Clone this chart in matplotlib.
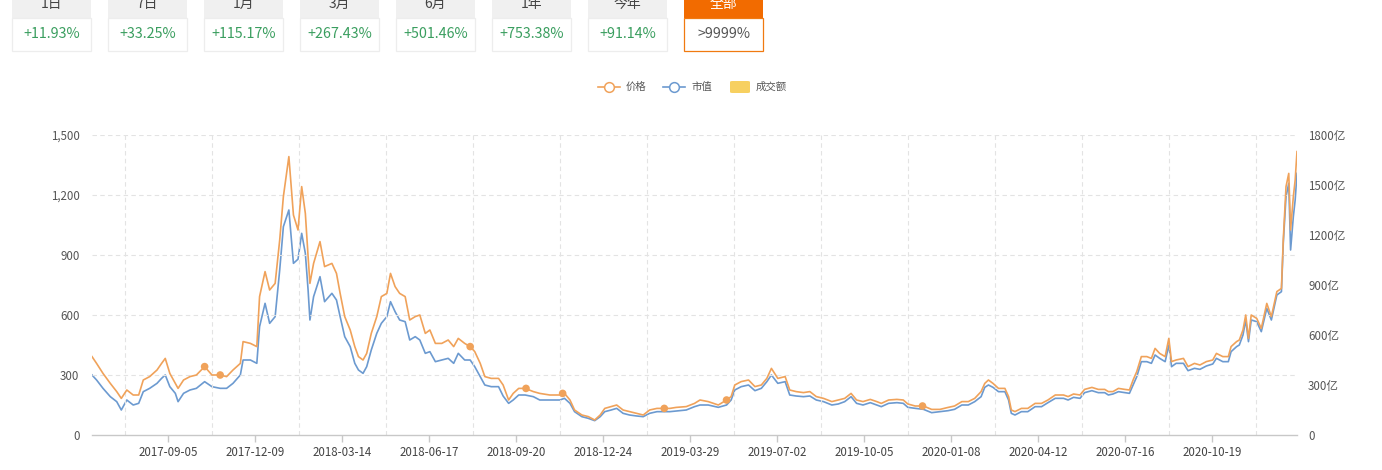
import numpy as np
import matplotlib
matplotlib.use("Agg")
import matplotlib.pyplot as plt
from matplotlib.patches import Rectangle, FancyBboxPatch
from matplotlib.lines import Line2D
from matplotlib.ticker import FuncFormatter

plt.rcParams['font.family'] = ['Noto Sans CJK SC', 'DejaVu Sans']

# ---------------- data ----------------
start_date = '2017-06-14'
day_offsets = [0, 5, 12, 20, 27, 32, 38, 45, 51, 56, 63, 71, 76, 80, 85, 91, 94, 100, 107, 114,
               123, 131, 140, 147, 154, 162, 165, 173, 180, 183, 189, 194, 200, 205, 209, 215, 220,
               225, 229, 233, 236, 238, 242, 249, 254, 262, 267, 271, 276, 282, 287, 291, 296, 300,
               305, 311, 316, 322, 326, 331, 336, 342, 347, 353, 358, 364, 369, 375, 382, 389, 395,
               400, 407, 413, 418, 424, 429, 436, 444, 449, 455, 460, 466, 473, 482, 489, 500, 511,
               516, 522, 527, 535, 542, 549, 555, 560, 567, 573, 580, 587, 595, 602, 609, 617, 624,
               631, 638, 649, 658, 664, 673, 684, 693, 698, 702, 709, 717, 724, 731, 737, 742, 749,
               757, 762, 769, 777, 784, 791, 799, 808, 815, 822, 829, 835, 842, 850, 857, 862, 870,
               879, 886, 891, 899, 908, 917, 926, 935, 942, 950, 957, 964, 971, 975, 979, 984, 990,
               997, 1001, 1004, 1008, 1015, 1022, 1030, 1037, 1044, 1052, 1061, 1066, 1072, 1079,
               1084, 1092, 1099, 1106, 1110, 1115, 1121, 1128, 1133, 1137, 1141, 1146, 1152, 1157,
               1161, 1166, 1172, 1176, 1179, 1184, 1192, 1197, 1204, 1210, 1217, 1224, 1228, 1235,
               1241, 1244, 1250, 1253, 1257, 1260, 1263, 1266, 1272, 1277, 1283, 1288, 1294, 1299,
               1301, 1304, 1307, 1309, 1312, 1314, 1316]

price = [392, 358, 308, 258, 217, 183, 225, 200, 200, 275, 292, 325, 358, 383, 308, 258, 233, 275, 292, 300,
         342, 300, 300, 292, 325, 358, 467, 458, 442, 692, 817, 725, 758, 975, 1192, 1392, 1100,
         1025, 1242, 1108, 892, 758, 858, 967, 842, 858, 808, 708, 592, 525, 442, 392, 375, 408,
         508, 592, 692, 708, 808, 742, 708, 692, 575, 592, 600, 508, 525, 458, 458, 475, 442,
         483, 458, 442, 417, 358, 292, 283, 283, 250, 175, 208, 233, 233, 217, 208, 200, 200,
         208, 175, 125, 100, 92, 75, 100, 133, 142, 150, 125, 117, 108, 100, 125, 133, 133,
         133, 138, 142, 158, 175, 167, 150, 175, 192, 250, 267, 275, 242, 250, 283, 333, 283,
         292, 225, 217, 212, 217, 192, 183, 167, 175, 183, 208, 175, 167, 178, 167, 158, 175,
         178, 175, 155, 145, 145, 128, 128, 138, 145, 167, 167, 183, 217, 258, 275, 258, 233,
         233, 192, 125, 117, 133, 133, 158, 158, 175, 200, 200, 192, 205, 200,
         228, 238, 228, 228, 217, 217, 233, 228, 225, 275, 317, 392, 392, 383,
         433, 408, 392, 483, 367, 375, 383, 342, 358, 350, 367, 375, 408, 392,
         392, 442, 467, 475, 525, 600, 483, 600, 583, 533, 658, 592, 717, 733,
         975, 1242, 1308, 1025, 1192, 1275, 1417]

market_cap_yi = [360, 330, 280, 230, 200, 150, 210, 180, 190, 260, 280, 310, 340, 360, 290, 250, 200, 250, 270, 280,
                 320, 290, 280, 280, 310, 360, 450, 450, 430, 650, 790, 670, 710, 990, 1250, 1350, 1030,
                 1055, 1210, 1090, 870, 690, 830, 950, 800, 850, 810, 710, 590, 530, 430, 390, 370, 410,
                 510, 610, 670, 710, 800, 740, 690, 680, 570, 590, 570, 490, 500, 440, 450, 460, 430,
                 490, 450, 450, 410, 350, 300, 290, 290, 234, 190, 210, 240, 240, 230, 210, 210, 210,
                 220, 190, 140, 110, 100, 86, 110, 140, 150, 160, 130, 120, 114, 110, 130, 140, 140,
                 140, 144, 150, 170, 180, 180, 166, 180, 210, 270, 290, 300, 266, 280, 320, 360, 310,
                 320, 240, 234, 230, 234, 210, 200, 180, 186, 200, 230, 190, 180, 194, 180, 170, 190,
                 194, 190, 166, 160, 154, 134, 140, 146, 154, 180, 180, 200, 230, 286, 300, 286, 260,
                 260, 210, 130, 120, 140, 140, 170, 170, 194, 220, 220, 210, 226, 220,
                 254, 266, 254, 254, 240, 246, 260, 254, 250, 300, 350, 440, 440, 430,
                 480, 460, 440, 540, 410, 430, 430, 386, 400, 394, 414, 426, 460, 440,
                 440, 500, 530, 540, 600, 690, 560, 690, 680, 620, 760, 690, 840, 860,
                 1150, 1430, 1510, 1110, 1310, 1410, 1570]

marker_days = [123, 140, 413, 474, 514, 625, 693, 907]
marker_price = [342, 300, 442, 233, 208, 133, 175, 145]

tick_dates = ['2017-09-05', '2017-12-09', '2018-03-14', '2018-06-17', '2018-09-20', '2018-12-24',
              '2019-03-29', '2019-07-02', '2019-10-05', '2020-01-08', '2020-04-12', '2020-07-16',
              '2020-10-19']

tab_labels = ['1日', '7日', '1月', '3月', '6月', '1年', '今年', '全部']
tab_values = ['+11.93%', '+33.25%', '+115.17%', '+267.43%', '+501.46%', '+753.38%', '+91.14%', '>9999%']

left_ticks = [0, 300, 600, 900, 1200, 1500]
right_ticks = [0, 300, 600, 900, 1200, 1500, 1800]

# ---------------- figure ----------------
W, H = 1382, 470
fig = plt.figure(figsize=(W / 100, H / 100), dpi=100)
fig.patch.set_facecolor('white')

def fx(px):
    return px / W

def fy(py):
    return 1 - py / H

ax_l, ax_r, ax_t, ax_b = 92, 1297, 135, 435
ax = fig.add_axes([fx(ax_l), fy(ax_b), fx(ax_r - ax_l), (ax_b - ax_t) / H])
ax2 = ax.twinx()

t0 = np.datetime64(start_date)
x = t0 + np.array(day_offsets).astype('timedelta64[D]')
xm = t0 + np.array(marker_days).astype('timedelta64[D]')

orange = '#F0A25A'
blue = '#6C9AD0'

ax2.plot(x, market_cap_yi, color=blue, lw=1.2, zorder=3)
ax.plot(x, price, color=orange, lw=1.2, zorder=4)
ax.scatter(xm, marker_price, s=30, color=orange, zorder=5, edgecolors='none')
ax.set_zorder(ax2.get_zorder() + 1)
ax.patch.set_visible(False)

ax.set_xlim(t0, t0 + np.timedelta64(1316, 'D'))
ax.set_ylim(0, 1500)
ax2.set_ylim(0, 1800)

tick_x = np.array(tick_dates, dtype='datetime64[D]')
ax.set_xticks(tick_x)
ax.set_xticklabels(tick_dates)

# vertical dashed grid lines halfway between ticks
grid_x = tick_x[0] - np.timedelta64(47, 'D') + np.arange(14) * np.timedelta64(95, 'D')
for gx in grid_x:
    ax.axvline(gx, color='#e3e3e3', lw=0.8, ls=(0, (4, 3)), zorder=0)

ax.set_yticks(left_ticks)
ax.yaxis.set_major_formatter(FuncFormatter(lambda v, p: f'{int(v):,}'))
ax2.set_yticks(right_ticks)
ax2.yaxis.set_major_formatter(FuncFormatter(lambda v, p: '0' if v == 0 else f'{int(v)}亿'))

for yv in left_ticks[1:]:
    ax.axhline(yv, color='#e3e3e3', lw=0.8, ls=(0, (4, 3)), zorder=0)

for a in (ax, ax2):
    for s in a.spines.values():
        s.set_visible(False)
ax.spines['bottom'].set_visible(True)
ax.spines['bottom'].set_color('#c8c8c8')
ax.spines['bottom'].set_linewidth(1.0)

ax.tick_params(axis='x', colors='#c8c8c8', length=5, width=1, labelcolor='#444444',
               labelsize=8.3, pad=3)
ax.tick_params(axis='y', length=0, labelcolor='#555555', labelsize=8.3, pad=9)
ax2.tick_params(axis='y', length=0, labelcolor='#555555', labelsize=8.3, pad=8)
ax2.tick_params(axis='x', length=0)

# ---------------- legend ----------------
ly = 87
fig.add_artist(Line2D([fx(598), fx(620)], [fy(ly), fy(ly)], color=orange, lw=1.2))
fig.add_artist(Line2D([fx(609)], [fy(ly)], marker='o', ms=7, mfc='white', mec=orange, mew=1.1))
fig.text(fx(626), fy(ly), '价格', fontsize=7.5, color='#555555', va='center', ha='left')
fig.add_artist(Line2D([fx(663), fx(685)], [fy(ly), fy(ly)], color=blue, lw=1.2))
fig.add_artist(Line2D([fx(674)], [fy(ly)], marker='o', ms=7, mfc='white', mec=blue, mew=1.1))
fig.text(fx(691), fy(ly), '市值', fontsize=7.5, color='#555555', va='center', ha='left')
fig.patches.append(FancyBboxPatch((fx(730), fy(ly + 6)), fx(20), 12 / H,
                                  boxstyle='round,pad=0,rounding_size=0.002',
                                  transform=fig.transFigure, facecolor='#F7D060',
                                  edgecolor='none', figure=fig))
fig.text(fx(756), fy(ly), '成交额', fontsize=7.5, color='#555555', va='center', ha='left')

# ---------------- period tabs ----------------
for i, (lab, val) in enumerate(zip(tab_labels, tab_values)):
    x0 = 12 + i * 96
    w = 79
    last = (i == len(tab_labels) - 1)
    head_col = '#F26B00' if last else '#F0F0F0'
    edge_col = '#F07A10' if last else '#EDEDED'
    fig.patches.append(Rectangle((fx(x0), fy(18)), fx(w), 18 / H, transform=fig.transFigure,
                                 facecolor=head_col, edgecolor='none', figure=fig))
    fig.patches.append(Rectangle((fx(x0), fy(51)), fx(w), 33 / H, transform=fig.transFigure,
                                 facecolor='white', edgecolor=edge_col, lw=0.9, figure=fig))
    fig.text(fx(x0 + w / 2), fy(4), lab, fontsize=10, ha='center', va='center',
             color='white' if last else '#444444')
    fig.text(fx(x0 + w / 2), fy(34), val, fontsize=10.3, ha='center', va='center',
             color='#555555' if last else '#3A9E5F')

fig.savefig('out.png', dpi=100, facecolor='white')
